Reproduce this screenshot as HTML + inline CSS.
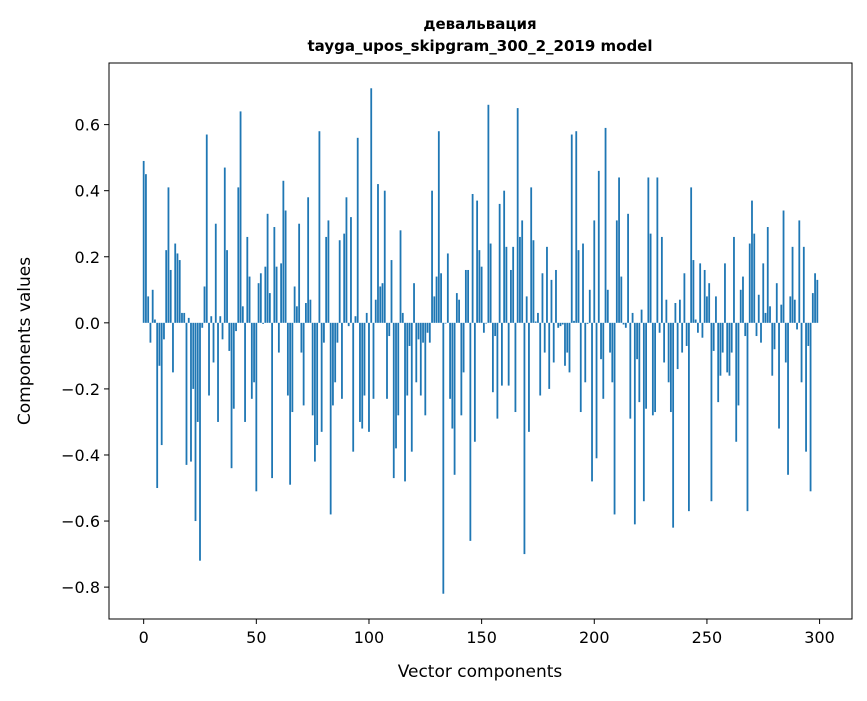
<!DOCTYPE html>
<html><head><meta charset="utf-8"><style>
body{margin:0;background:#fff;font-family:"Liberation Sans","DejaVu Sans",sans-serif;}
svg text{font-family:"DejaVu Sans","Liberation Sans",sans-serif;}
</style></head><body>
<svg id="chart" width="867" height="696" xmlns="http://www.w3.org/2000/svg">
<rect width="867" height="696" fill="#fff"/>
<text x="480" y="29" text-anchor="middle" font-size="15" font-weight="bold">девальвация</text>
<text x="480" y="51" text-anchor="middle" font-size="15" font-weight="bold">tayga_upos_skipgram_300_2_2019 model</text>
<g id="bars"></g>
<g id="xticks"></g>
<g id="yticks"></g>
<rect x="109" y="63" width="743" height="556" fill="none" stroke="#000" stroke-width="1"/>
<text x="480" y="677" text-anchor="middle" font-size="17">Vector components</text>
<text transform="translate(30,341) rotate(-90)" text-anchor="middle" font-size="17">Components values</text>
</svg>
<script>
const values = [
0.49,0.45,0.08,-0.06,0.10,0.01,-0.50,-0.13,-0.37,-0.05,
0.22,0.41,0.16,-0.15,0.24,0.21,0.19,0.03,0.03,-0.43,
0.015,-0.42,-0.20,-0.60,-0.30,-0.72,-0.015,0.11,0.57,-0.22,
0.02,-0.12,0.30,-0.30,0.02,-0.05,0.47,0.22,-0.085,-0.44,
-0.26,-0.025,0.41,0.64,0.05,-0.30,0.26,0.14,-0.23,-0.18,
-0.51,0.12,0.15,-0.003,0.17,0.33,0.09,-0.47,0.29,0.17,
-0.09,0.18,0.43,0.34,-0.22,-0.49,-0.27,0.11,0.05,0.30,
-0.09,-0.25,0.06,0.38,0.07,-0.28,-0.42,-0.37,0.58,-0.33,
-0.06,0.26,0.31,-0.58,-0.25,-0.18,-0.06,0.25,-0.23,0.27,
0.38,-0.01,0.32,-0.39,0.02,0.56,-0.30,-0.32,-0.22,0.03,
-0.33,0.71,-0.23,0.07,0.42,0.11,0.12,0.40,-0.23,-0.04,
0.19,-0.47,-0.38,-0.28,0.28,0.03,-0.48,-0.22,-0.07,-0.39,
0.12,-0.18,-0.05,-0.22,-0.06,-0.28,-0.03,-0.06,0.40,0.08,
0.14,0.58,0.15,-0.82,-0.002,0.21,-0.23,-0.32,-0.46,0.09,
0.07,-0.28,-0.15,0.16,0.16,-0.66,0.39,-0.36,0.37,0.22,
0.17,-0.03,-0.002,0.66,0.24,-0.21,-0.04,-0.29,0.36,-0.19,
0.40,0.23,-0.19,0.16,0.23,-0.27,0.65,0.26,0.31,-0.70,
0.08,-0.33,0.41,0.25,0.004,0.03,-0.22,0.15,-0.09,0.23,
-0.20,0.13,-0.12,0.16,-0.015,-0.01,-0.005,-0.13,-0.09,-0.15,
0.57,0.006,0.58,0.22,-0.27,0.24,-0.18,-0.003,0.10,-0.48,
0.31,-0.41,0.46,-0.11,-0.23,0.59,0.10,-0.09,-0.18,-0.58,
0.31,0.44,0.14,-0.005,-0.015,0.33,-0.29,0.03,-0.61,-0.11,
-0.24,0.04,-0.54,-0.26,0.44,0.27,-0.28,-0.27,0.44,-0.03,
0.26,-0.12,0.07,-0.18,-0.27,-0.62,0.06,-0.14,0.07,-0.09,
0.15,-0.07,-0.57,0.41,0.19,0.01,-0.03,0.18,-0.045,0.16,
0.08,0.12,-0.54,-0.085,0.08,-0.24,-0.16,-0.09,0.18,-0.15,
-0.16,-0.09,0.26,-0.36,-0.25,0.10,0.14,-0.04,-0.57,0.24,
0.37,0.27,-0.04,0.085,-0.06,0.18,0.03,0.29,0.05,-0.16,
-0.08,0.12,-0.32,0.055,0.34,-0.12,-0.46,0.08,0.23,0.07,
-0.02,0.31,-0.18,0.23,-0.39,-0.07,-0.51,0.09,0.15,0.13
];
const xTicks = [0,50,100,150,200,250,300];
const yTicks = [-0.8,-0.6,-0.4,-0.2,0.0,0.2,0.4,0.6];

const NS = "http://www.w3.org/2000/svg";
const L=109,R=852,T=63,B=619;
const n = values.length;
const xmin=-0.4, xmax=n-1+0.4, xpad=(xmax-xmin)*0.05;
const x0=xmin-xpad, x1=xmax+xpad;
const vmin=Math.min(0,...values), vmax=Math.max(0,...values), ypad=(vmax-vmin)*0.05;
const y0=vmin-ypad, y1=vmax+ypad;
function sx(v){return L+(v-x0)/(x1-x0)*(R-L);}
function sy(v){return B-(v-y0)/(y1-y0)*(B-T);}
function mk(tag,attrs){const e=document.createElementNS(NS,tag);for(const k in attrs)e.setAttribute(k,attrs[k]);return e;}

const bars=document.getElementById('bars');
values.forEach((v,i)=>{
  const xa=sx(i-0.4), xb=sx(i+0.4);
  const ya=sy(Math.max(v,0)), yb=sy(Math.min(v,0));
  const r=mk('rect',{x:xa,y:ya,width:xb-xa,height:Math.max(yb-ya,0.01),fill:'#1f77b4'});
  
  
  bars.appendChild(r);
});
const xg=document.getElementById('xticks');
xTicks.forEach(t=>{
  const x=sx(t);
  const l=mk('line',{x1:x,x2:x,y1:B,y2:B+5,stroke:'#000','stroke-width':1});
  
  
  xg.appendChild(l);
  const tx=mk('text',{x:x,y:B+24,'text-anchor':'middle','font-size':16});
  
  
  tx.textContent=String(t);
  xg.appendChild(tx);
});
const yg=document.getElementById('yticks');
yTicks.forEach(t=>{
  const y=sy(t);
  const l=mk('line',{x1:L-5,x2:L,y1:y,y2:y,stroke:'#000','stroke-width':1});
  
  
  yg.appendChild(l);
  const tx=mk('text',{x:L-9,y:y+6,'text-anchor':'end','font-size':16});
  
  
  tx.textContent=(t<0?'\u2212':'')+Math.abs(t).toFixed(1);
  yg.appendChild(tx);
});
</script>
</body></html>
